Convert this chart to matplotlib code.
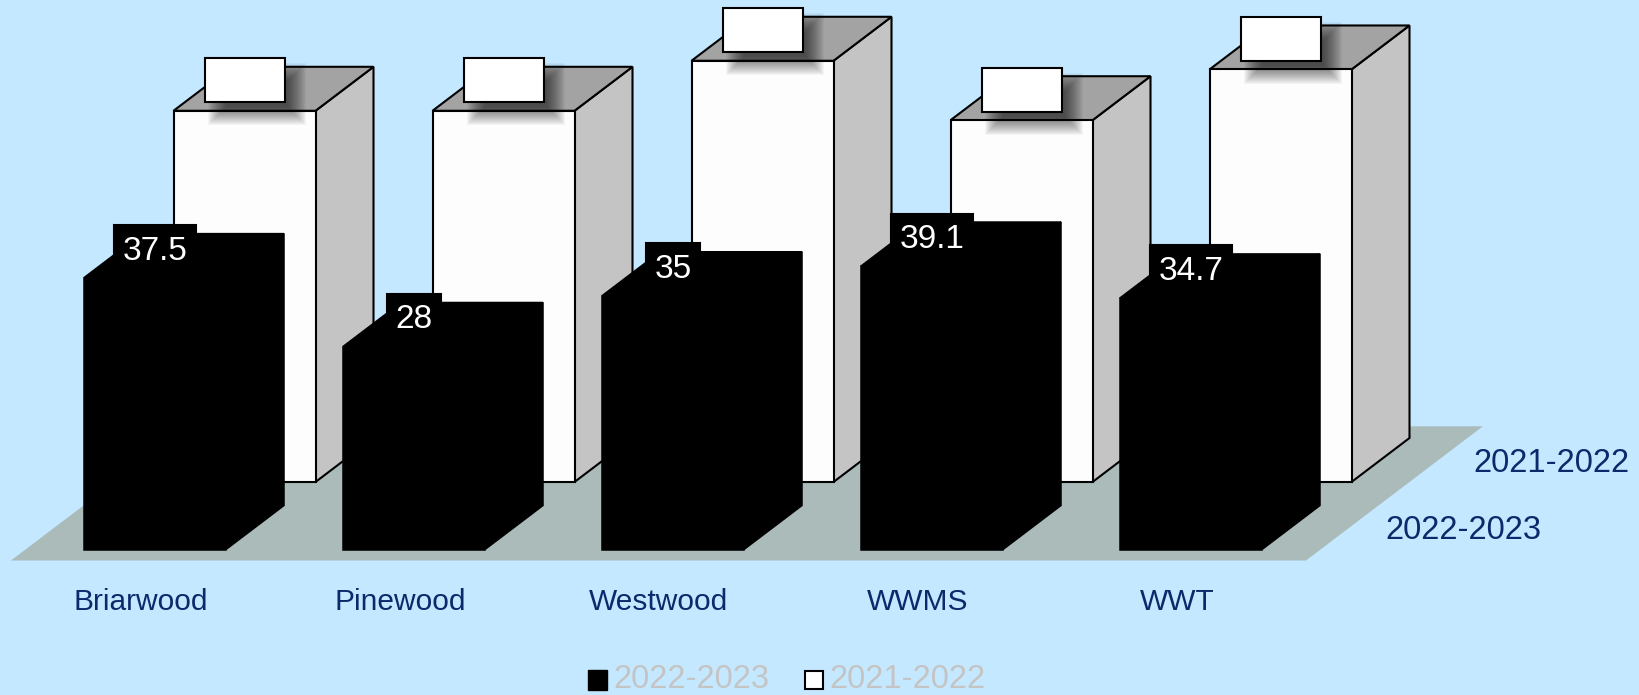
"""
Oblique 3D column chart of two school years, drawn on a pixel-sized axes.
"""
from matplotlib import pyplot as plt
from matplotlib.patches import Polygon, Rectangle

schools = ["Briarwood", "Pinewood", "Westwood", "WWMS", "WWT"]
series_names = ["2022-2023", "2021-2022"]
values_2022 = [37.5, 28, 35, 39.1, 34.7]
values_2021 = [51.2, 51.2, 58.1, 49.9, 56.9]
labels_2022 = ["37.5", "28", "35", "39.1", "34.7"]

# layout of the projection, in output pixels
X0, Y0 = 84, 549.5
STEP = 259
BAR_W = 142
DEPTH_X, DEPTH_Y = 58, 44
ROW_DX, ROW_DY = 89.5, 67.5
UNIT = 7.25

BG = "#C4E8FF"
FLOOR = "#AABBB9"
NAVY = "#0B2A6B"
SIDE = "#C4C4C4"
TOP = "#A3A3A3"
FACE = "#FDFDFD"
FONT = "Liberation Sans"


def project(i, row, value, across=0.0, depth=0.0):
    """ Category index, series row and value to picture position. """
    x = X0 + i * STEP + across * BAR_W + row * ROW_DX + depth * DEPTH_X
    y = Y0 - value * UNIT - row * ROW_DY - depth * DEPTH_Y
    return x, y


def draw_bar(ax, i, row, value, front, side, top, edge, lw, zorder):
    """ One column: front, side and top faces. """
    ax.add_patch(Polygon([project(i, row, 0, 1, 0), project(i, row, 0, 1, 1),
                          project(i, row, value, 1, 1), project(i, row, value, 1, 0)],
                         fc=side, ec=edge, lw=lw, zorder=zorder))
    ax.add_patch(Polygon([project(i, row, value, 0, 0), project(i, row, value, 1, 0),
                          project(i, row, value, 1, 1), project(i, row, value, 0, 1)],
                         fc=top, ec=edge, lw=lw, zorder=zorder))
    ax.add_patch(Polygon([project(i, row, 0, 0, 0), project(i, row, 0, 1, 0),
                          project(i, row, value, 1, 0), project(i, row, value, 0, 0)],
                         fc=front, ec=edge, lw=lw, zorder=zorder))


def draw_shadow(ax, x, y, w, h, zorder):
    """ Soft shadow built from stacked rectangles. """
    for grow in range(9, -10, -1):
        ax.add_patch(Rectangle((x - grow, y - grow), w + 2 * grow, h + 2 * grow,
                               fc="black", ec="none", alpha=0.035, zorder=zorder))


def draw_label(ax, fig, i, row, value, text, fc, ec, color, zorder):
    """ Data label box centred over the front face. """
    cx, top = project(i, row, value, 0.5, 0)
    box_h = 44
    y = top - 52.5
    t = ax.text(cx, top - 18, text, color=color, fontsize=24, family=FONT,
                ha="center", va="baseline", zorder=zorder + 1)
    if text:
        w = t.get_window_extent(fig.canvas.get_renderer()).width + 17
    else:
        w = 80
        draw_shadow(ax, cx - w / 2 + 12, y + 14, w, box_h, zorder - 0.5)
    ax.add_patch(Rectangle((cx - w / 2, y), w, box_h, fc=fc, ec=ec, lw=1.5, zorder=zorder))


def main():
    fig = plt.figure(figsize=(16.39, 6.95), dpi=100, facecolor=BG)
    ax = fig.add_axes([0, 0, 1, 1])
    ax.set_xlim(0, 1639)
    ax.set_ylim(695, 0)
    ax.axis("off")

    # floor
    x_left, x_right, y_front = 11, 1306, 560.5
    span = 3.05
    floor = [(x_left, y_front), (x_right, y_front),
             (x_right + span * DEPTH_X, y_front - span * DEPTH_Y),
             (x_left + span * DEPTH_X, y_front - span * DEPTH_Y)]
    ax.add_patch(Polygon(floor, fc=FLOOR, ec="none", zorder=1))

    for i, value in enumerate(values_2021):
        draw_bar(ax, i, 1, value, FACE, SIDE, TOP, "black", 1.5, 2)
    for i, value in enumerate(values_2021):
        draw_label(ax, fig, i, 1, value, "", "white", "black", "black", 4)

    for i, value in enumerate(values_2022):
        draw_bar(ax, i, 0, value, "black", "black", "black", "black", 1.1, 6)
    for i, value in enumerate(values_2022):
        draw_label(ax, fig, i, 0, value, labels_2022[i], "black", "black", "white", 7)

    # category and depth axis labels
    for i, name in enumerate(schools):
        x, _ = project(i, 0, 0, 0.4)
        ax.text(x, 609.5, name, color=NAVY, fontsize=21.5, family=FONT, ha="center", va="baseline")
    ax.text(1463, 539, series_names[0], color=NAVY, fontsize=23.5, family=FONT, ha="center", va="baseline")
    ax.text(1551, 472, series_names[1], color=NAVY, fontsize=23.5, family=FONT, ha="center", va="baseline")

    # legend
    ax.add_patch(Rectangle((588, 670), 19, 20, fc="black", ec="black", lw=1))
    ax.text(613, 688, series_names[0], color=SIDE, fontsize=23.5, family=FONT, ha="left", va="baseline")
    ax.add_patch(Rectangle((805, 671), 18, 18, fc="white", ec="black", lw=1.5))
    ax.text(829, 688, series_names[1], color=SIDE, fontsize=23.5, family=FONT, ha="left", va="baseline")

    fig.savefig("out.png", dpi=100, facecolor=BG)


if __name__ == "__main__":
    main()
